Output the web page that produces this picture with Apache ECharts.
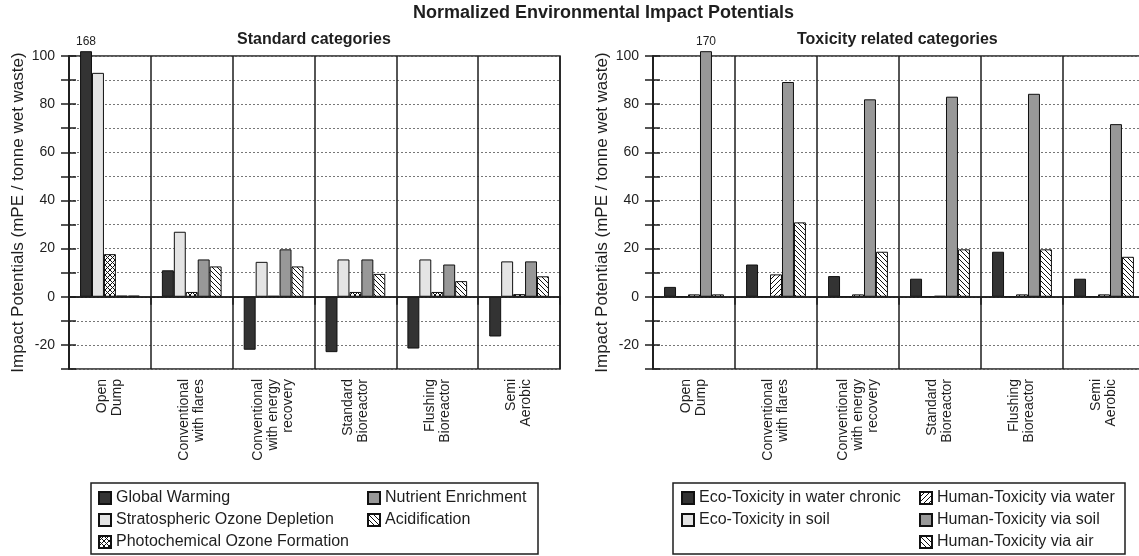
<!DOCTYPE html>
<html>
<head>
<meta charset="utf-8">
<script src="https://cdn.jsdelivr.net/npm/echarts@6/dist/echarts.min.js"></script>
<style>
  html, body { margin: 0; padding: 0; background: #fff; overflow: hidden; }
  /* a little wider than the window: the right plot runs off the edge like in the original */
  #chart { width: 1146px; height: 556px; }
</style>
</head>
<body>
<div id="chart"></div>
<script>
// landfill scenarios
const categories = ['Open\nDump', 'Conventional\nwith flares', 'Conventional\nwith energy\nrecovery', 'Standard\nBioreactor', 'Flushing\nBioreactor', 'Semi\nAerobic']

// standard categories
const globalWarming = [168, 11, -22, -23, -21.5, -16.5]
const ozoneDepletion = [93, 27, 14.5, 15.5, 15.5, 14.7]
const photochemical = [17.7, 2, 0.4, 2, 2, 1.1]
const nutrient = [0.5, 15.5, 19.7, 15.5, 13.4, 14.7]
const acidification = [0.5, 12.6, 12.6, 9.5, 6.5, 8.5]

// toxicity related categories
const ecoWater = [4.1, 13.4, 8.6, 7.5, 18.7, 7.5]
const ecoSoil = [0.1, 0.1, 0.1, 0.1, 0.1, 0.1]
const humanWater = [1, 9.3, 1, 0.4, 1, 1]
const humanSoil = [170, 89.2, 82, 83.1, 84.3, 71.7]
const humanAir = [1, 30.9, 18.7, 19.7, 19.7, 16.6]

const yMin = -30
const yMax = 100
const barCap = 102 // bars above the axis are cut here and labelled with their value

const font = 'Liberation Sans, Arial, sans-serif'
const ink = '#1e1e1e'

function hatch(kind, s) {
  const c = document.createElement('canvas')
  c.width = s
  c.height = s
  const g = c.getContext('2d')
  g.fillStyle = '#fff'
  g.fillRect(0, 0, s, s)
  g.strokeStyle = '#111'
  g.lineWidth = 1
  g.beginPath()
  for (const k of [-s, 0, s]) {
    if (kind === 'back' || kind === 'cross') {
      g.moveTo(k, 0)
      g.lineTo(k + s, s)
    }
    if (kind === 'fwd' || kind === 'cross') {
      g.moveTo(k, s)
      g.lineTo(k + s, 0)
    }
  }
  g.stroke()
  return { image: c, repeat: 'repeat' }
}

const dark = '#333333'
const light = '#e4e4e4'
const gray = '#989898'

function barSeries(name, values, color, gridIdx, zeroLine) {
  const s = {
    name: name,
    type: 'bar',
    xAxisIndex: gridIdx,
    yAxisIndex: gridIdx * 2,
    barGap: '0%',
    barCategoryGap: '27%',
    clip: false,
    data: values.map(v => ({
      value: Math.min(v, barCap),
      label: { show: v > yMax, formatter: String(v) }
    })),
    label: {
      position: 'top',
      distance: 3,
      fontSize: 12,
      fontFamily: font,
      color: ink
    },
    itemStyle: {
      color: color,
      borderColor: '#111',
      borderWidth: 1
    }
  }
  if (zeroLine) {
    s.markLine = {
      silent: true,
      symbol: 'none',
      label: { show: false },
      lineStyle: { color: ink, type: 'solid', width: 1.5 },
      data: [{ yAxis: 0 }]
    }
  }
  return s
}

function xAxis(gridIdx) {
  return {
    type: 'category',
    gridIndex: gridIdx,
    data: categories,
    axisLine: { lineStyle: { color: ink, width: 1.5 } },
    axisTick: { show: true, length: 8, lineStyle: { color: ink, width: 1.5 } },
    splitLine: { show: true, lineStyle: { color: ink, width: 1.5 } },
    axisLabel: {
      interval: 0,
      rotate: 90,
      margin: 10,
      fontSize: 14,
      lineHeight: 15,
      fontFamily: font,
      color: ink
    }
  }
}

function yAxis(gridIdx) {
  return {
    type: 'value',
    gridIndex: gridIdx,
    min: yMin,
    max: yMax,
    interval: 10,
    name: 'Impact Potentials (mPE / tonne wet waste)',
    nameLocation: 'middle',
    nameGap: 42,
    nameTextStyle: { fontSize: 17, fontFamily: font, color: ink },
    axisLine: { show: true, lineStyle: { color: ink, width: 1.5 } },
    axisTick: { show: true, length: 8, lineStyle: { color: ink, width: 1.5 } },
    axisLabel: {
      margin: 14,
      fontSize: 14,
      fontFamily: font,
      color: ink,
      formatter: v => (v % 20 === 0 ? String(v) : '')
    },
    splitLine: { show: true, lineStyle: { color: '#777', type: [2, 2], width: 1 } }
  }
}

// second copy of the value axis, only to draw the inner half of the crossing ticks
function yTicksInside(gridIdx) {
  return {
    type: 'value',
    gridIndex: gridIdx,
    position: 'left',
    min: yMin,
    max: yMax,
    interval: 10,
    axisLine: { show: false },
    axisTick: { show: true, inside: true, length: 7, lineStyle: { color: ink, width: 1.5 } },
    axisLabel: { show: false },
    splitLine: { show: false }
  }
}

function legend(names, left) {
  return {
    data: names,
    orient: 'vertical',
    left: left,
    top: 490,
    padding: 0,
    itemWidth: 12,
    itemHeight: 12,
    itemGap: 6,
    icon: 'rect',
    textStyle: { fontSize: 16, lineHeight: 16, fontFamily: font, color: ink }
  }
}

const chart = echarts.init(document.getElementById('chart'))
chart.setOption({
  animation: false,
  title: [
    { text: 'Normalized Environmental Impact Potentials', left: 413, top: 4, padding: 0,
      textStyle: { fontSize: 18, fontWeight: 'bold', fontFamily: font, color: ink } },
    { text: 'Standard categories', left: 237, top: 32, padding: 0,
      textStyle: { fontSize: 16, fontWeight: 'bold', fontFamily: font, color: ink } },
    { text: 'Toxicity related categories', left: 797, top: 32, padding: 0,
      textStyle: { fontSize: 16, fontWeight: 'bold', fontFamily: font, color: ink } }
  ],
  grid: [
    { left: 69, top: 56, width: 491, height: 313, show: true, borderColor: ink, borderWidth: 1.5 },
    { left: 653, top: 56, width: 492, height: 313, show: true, borderColor: ink, borderWidth: 1.5 }
  ],
  xAxis: [xAxis(0), xAxis(1)],
  yAxis: [yAxis(0), yTicksInside(0), yAxis(1), yTicksInside(1)],
  legend: [
    legend(['Global Warming', 'Stratospheric Ozone Depletion', 'Photochemical Ozone Formation'], 98),
    legend(['Nutrient Enrichment', 'Acidification'], 367),
    legend(['Eco-Toxicity in water chronic', 'Eco-Toxicity in soil'], 681),
    legend(['Human-Toxicity via water', 'Human-Toxicity via soil', 'Human-Toxicity via air'], 919)
  ],
  graphic: [
    { type: 'rect', shape: { x: 91, y: 483, width: 447, height: 71 },
      style: { fill: 'none', stroke: ink, lineWidth: 1.5 } },
    { type: 'rect', shape: { x: 673, y: 483, width: 452, height: 71 },
      style: { fill: 'none', stroke: ink, lineWidth: 1.5 } }
  ],
  series: [
    barSeries('Global Warming', globalWarming, dark, 0, true),
    barSeries('Stratospheric Ozone Depletion', ozoneDepletion, light, 0),
    barSeries('Photochemical Ozone Formation', photochemical, hatch('cross', 5), 0),
    barSeries('Nutrient Enrichment', nutrient, gray, 0),
    barSeries('Acidification', acidification, hatch('back', 5), 0),
    barSeries('Eco-Toxicity in water chronic', ecoWater, dark, 1, true),
    barSeries('Eco-Toxicity in soil', ecoSoil, light, 1),
    barSeries('Human-Toxicity via water', humanWater, hatch('fwd', 5), 1),
    barSeries('Human-Toxicity via soil', humanSoil, gray, 1),
    barSeries('Human-Toxicity via air', humanAir, hatch('back', 5), 1)
  ]
})
</script>
</body>
</html>
